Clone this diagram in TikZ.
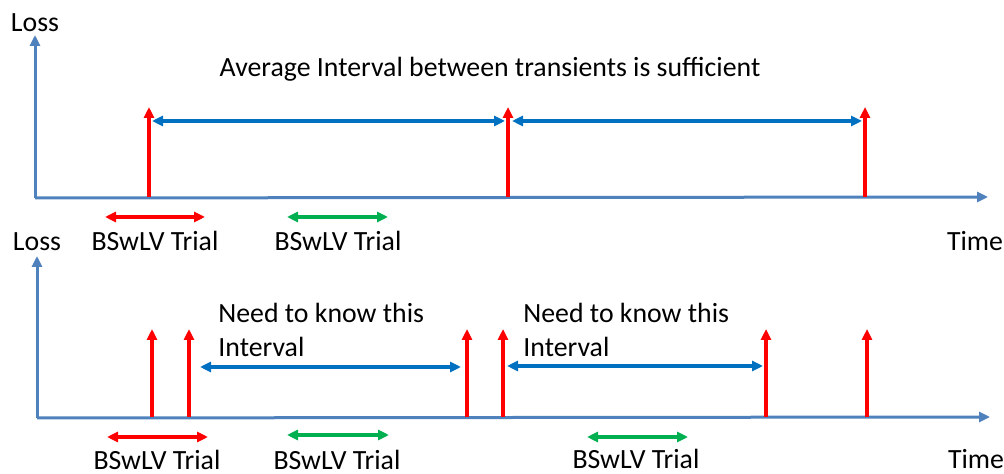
\documentclass[tikz,border=0pt]{standalone}
\usepackage{fontspec}
\setmainfont{Carlito}
\usetikzlibrary{arrows.meta}
\definecolor{ejeazul}{HTML}{4F81BD}
\definecolor{intazul}{HTML}{0070C0}
\definecolor{rojo}{HTML}{FF0000}
\definecolor{verde}{HTML}{00B050}

\begin{document}
\begin{tikzpicture}[x=0.5pt, y=-0.5pt,
      eje/.style = {draw=ejeazul, line width=1.5pt,
        -{Triangle[length=5.5pt, width=5pt]}
      },
      pico/.style = {draw=rojo, line width=1.6pt,
        -{Triangle[length=5.5pt, width=5pt]}
      },
      intervalo/.style = {draw=intazul, line width=1.6pt,
        {Triangle[length=5.5pt, width=5pt]}-{Triangle[length=5.5pt, width=5pt]}
      },
      ensayo/.style = {line width=1.6pt,
        {Triangle[length=5.5pt, width=5pt]}-{Triangle[length=5.5pt, width=5pt]}
      },
      texto/.style = {anchor=base, inner sep=0pt,
        font=\fontsize{13.9}{17}\selectfont}
    ]
    \useasboundingbox (0,0) rectangle (1004,474);

    %panel superior
    \coordinate (o1) at (35,198);
    \coordinate (y1) at (35,35);
    \coordinate (x1) at (988,197);
    \draw[eje] (o1) -- (y1);
    \draw[eje] (o1) -- (x1);
    \node[texto] (loss1) at (35,32) {Loss};
    \node[texto] (time1) at (975,251) {Time};
    \node[texto] (avg) at (490,77) {Average Interval between transients is sufficient};

    \foreach \x/\n in {149/a, 508/b, 865/c} {
      \coordinate (p\n) at (\x,197);
      \coordinate (q\n) at (\x,107);
      \draw[pico] (p\n) -- (q\n);
    }

    \coordinate (i1) at (152,121);
    \coordinate (i2) at (505,121);
    \coordinate (i3) at (512,121);
    \coordinate (i4) at (862,121);
    \draw[intervalo] (i1) -- (i2);
    \draw[intervalo] (i3) -- (i4);

    \coordinate (r1) at (105,217);
    \coordinate (r2) at (205,217);
    \coordinate (g1) at (287,217);
    \coordinate (g2) at (388,217);
    \draw[ensayo, draw=rojo, fill=rojo] (r1) -- (r2);
    \draw[ensayo, draw=verde, fill=verde] (g1) -- (g2);
    \node[texto] (lab1) at (155,251) {BSwLV Trial};
    \node[texto] (lab2) at (338,251) {BSwLV Trial};

    %panel inferior
    \coordinate (o2) at (37,418);
    \coordinate (y2) at (37,256);
    \coordinate (x2) at (990,417);
    \draw[eje] (o2) -- (y2);
    \draw[eje] (o2) -- (x2);
    \node[texto] (loss2) at (37,251) {Loss};
    \node[texto] (time2) at (976,468) {Time};

    \foreach \x/\n in {152/a, 189/b, 467/c, 503/d, 766/e, 867/f} {
      \coordinate (s\n) at (\x,417);
      \coordinate (t\n) at (\x,329);
      \draw[pico] (s\n) -- (t\n);
    }

    \coordinate (j1) at (200,367);
    \coordinate (j2) at (461,367);
    \coordinate (j3) at (507,366);
    \coordinate (j4) at (763,366);
    \draw[intervalo] (j1) -- (j2);
    \draw[intervalo] (j3) -- (j4);
    \node[texto, anchor=base west, align=left] (need1) at (218,357) {Need to know this\\Interval};
    \node[texto, anchor=base west, align=left] (need2) at (523,357) {Need to know this\\Interval};

    \coordinate (r3) at (107,437);
    \coordinate (r4) at (208,437);
    \coordinate (g3) at (287,435);
    \coordinate (g4) at (389,435);
    \coordinate (g5) at (587,437);
    \coordinate (g6) at (688,437);
    \draw[ensayo, draw=rojo, fill=rojo] (r3) -- (r4);
    \draw[ensayo, draw=verde, fill=verde] (g3) -- (g4);
    \draw[ensayo, draw=verde, fill=verde] (g5) -- (g6);
    \node[texto] (lab3) at (157,469) {BSwLV Trial};
    \node[texto] (lab4) at (337,469) {BSwLV Trial};
    \node[texto] (lab5) at (636,468) {BSwLV Trial};
\end{tikzpicture}
\end{document}
